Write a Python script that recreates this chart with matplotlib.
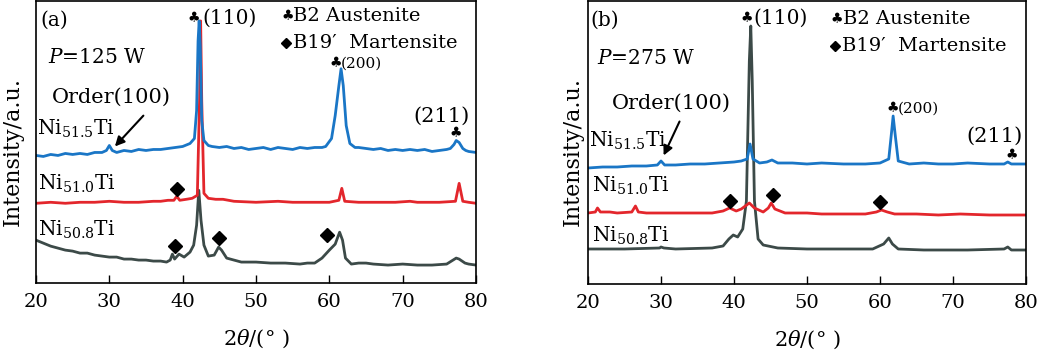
import matplotlib
matplotlib.use("Agg")
import matplotlib.pyplot as plt

plt.rcParams['font.family'] = ['DejaVu Serif', 'DejaVu Sans']
plt.rcParams['mathtext.fontset'] = 'dejavuserif'

# ---------------- data (2theta in degrees, intensity in a.u.) ----------------
# Panel (a): P = 125 W
a_blue_x = [20, 21, 22, 23, 24, 25, 26, 27, 28, 29, 29.6, 30.0, 30.4, 31, 32, 33, 34, 35, 36, 37, 38, 39, 40, 41, 41.6,
            41.9, 42.1, 42.25, 42.4, 42.6, 42.9, 43.5, 44, 45, 46, 47, 48, 49, 50, 51, 52, 53, 54, 55, 56, 57, 58, 59,
            59.5, 60.3, 60.8, 61.3, 61.6, 61.9, 62.3, 62.8, 63.5, 64, 65, 66, 67, 68, 69, 70, 71, 72, 73, 74, 75, 76,
            76.5, 77.0, 77.3, 77.7, 78.2, 78.6, 79, 80]
a_blue_y = [128, 127, 129, 128, 130, 129, 130, 129, 131, 131, 133, 138, 133, 131, 133, 132, 134, 133, 134, 134, 135, 136,
            137, 140, 145, 173, 243, 263, 238, 163, 143, 138, 137, 136, 137, 135, 136, 134, 135, 136, 134, 136, 135, 134,
            136, 135, 136, 136, 137, 145, 168, 198, 215, 198, 158, 140, 136, 136, 135, 134, 135, 133, 134, 133, 134,
            133, 134, 132, 133, 134, 135, 139, 143, 141, 135, 133, 132, 131]

a_red_x = [20, 22, 24, 26, 28, 30, 32, 34, 36, 37, 38, 38.8, 39.2, 39.6, 40.5, 41.3, 42.0, 42.3, 42.45, 42.6, 42.9, 43.5,
           44.5, 45.5, 47, 50, 53, 55, 58, 60, 61.3, 61.7, 62.1, 64, 66, 69, 71, 72, 75, 77.2, 77.7, 78.2, 79, 80]
a_red_y = [80, 81, 80, 81, 81, 82, 81, 81, 82, 82, 83, 83, 87, 83, 84, 85, 88, 183, 263, 183, 90, 85,
           84, 84, 82, 81, 82, 81, 81, 81, 83, 95, 82, 81, 81, 81, 82, 81, 81, 82, 100, 82, 81, 80]

a_gray_x = [20, 21, 22, 23, 24, 25, 26, 27, 28, 29, 30, 31, 32, 33, 34, 35, 36, 37, 37.8, 38.3, 38.6, 38.9, 39.5, 40.2,
            41.0, 41.5, 41.9, 42.2, 42.5, 42.9, 43.5, 44.3, 44.9, 45.3, 46, 47, 48, 50, 52, 54, 56, 57, 58, 59, 60,
            60.8, 61.4, 61.8, 62.2, 63, 64, 65, 66, 68, 70, 72, 74, 76, 77.3, 77.7, 78.5, 79, 80]
a_gray_y = [43, 40, 37, 35, 33, 32, 30, 30, 28, 27, 26, 26, 24, 24, 23, 23, 22, 22, 21, 23, 29, 24, 29, 26,
            31, 38, 58, 93, 63, 38, 27, 28, 36, 33, 25, 23, 21, 21, 20, 20, 19, 20, 20, 25, 33,
            39, 51, 43, 25, 19, 20, 20, 19, 18, 19, 18, 18, 19, 25, 24, 20, 19, 18]

# Panel (b): P = 275 W
b_blue_x = [20, 22, 24, 26, 28, 29.5, 30, 30.5, 32, 34, 36, 38, 40, 41, 41.8, 42.2, 42.6, 43.5, 44.5, 45.2, 46, 48, 50,
            52, 55, 58, 60, 61.2, 61.6, 61.8, 62.1, 62.5, 64, 66, 68, 70, 72, 75, 77, 77.5, 78, 80]
b_blue_y = [116, 117, 117, 118, 118, 119, 123, 119, 119, 120, 120, 121, 122, 123, 125, 140, 125, 121, 122, 124, 121, 121,
            120, 121, 120, 120, 121, 125, 153, 168, 148, 123, 120, 121, 120, 120, 121, 120, 120, 122, 120, 120]

b_red_x = [20, 21, 21.3, 21.7, 23, 24, 26, 26.5, 26.9, 28, 30, 32, 34, 36, 37, 38.5, 39.4, 40.3, 41, 42.1, 42.8, 44,
           44.7, 45.1, 45.6, 47, 50, 52, 55, 58, 59.5, 60.2, 61, 62, 65, 68, 71, 75, 78, 80]
b_red_y = [71, 72, 76, 72, 72, 71, 72, 78, 72, 71, 71, 71, 71, 71, 71, 73, 76, 73, 75, 81, 76, 72,
           76, 81, 75, 71, 71, 70, 70, 70, 72, 74, 72, 70, 70, 69, 70, 69, 69, 69]

b_gray_x = [20, 25, 29.8, 30, 30.4, 32, 37, 38.5, 39.3, 39.9, 40.5, 41.2, 41.7, 42.1, 42.3, 42.5, 42.8, 43.3, 44, 46, 50,
            55, 59, 60.5, 61.2, 61.7, 62.5, 66, 72, 77, 77.5, 78, 80]
b_gray_y = [35, 35, 36, 37, 36, 35, 36, 38, 45, 49, 47, 55, 83, 223, 258, 203, 83, 45, 39, 36, 35,
            35, 35, 40, 46, 40, 35, 34, 34, 35, 37, 34, 34]

sample_labels = ["Ni$_{51.5}$Ti", "Ni$_{51.0}$Ti", "Ni$_{50.8}$Ti"]
x_ticks = [20, 30, 40, 50, 60, 70, 80]

# martensite markers (2theta, intensity)
a_dia_x = [39.2, 38.9, 45.0, 59.7]
a_dia_y = [94, 37, 45, 48]
b_dia_x = [39.5, 45.3, 60.0]
b_dia_y = [83, 89, 82]

BLUE = '#1a76c6'
RED = '#e3262c'
GRAY = '#3c4a48'

fig = plt.figure(figsize=(10.4, 3.51), dpi=100)
W, H = 1040, 351


def make_ax(left, right, top, bottom):
    return fig.add_axes([left / W, 1 - bottom / H, (right - left) / W, (bottom - top) / H])


axA = make_ax(36, 476, 1, 283)
axB = make_ax(588, 1026, 1, 284)

TS = 14.5
CLUB = dict(family=['DejaVu Sans'], fontsize=10, fontweight='bold')


def style(ax):
    ax.set_xlim(20, 80)
    ax.set_ylim(0, 283)
    ax.set_yticks([])
    ax.set_xticks(x_ticks)
    ax.tick_params(axis='x', direction='in', length=6, width=1, labelsize=14, pad=7)
    for s in ax.spines.values():
        s.set_linewidth(1.2)
    ax.set_xlabel(r"2$\theta$/(° )", fontsize=15, labelpad=12)


for ax, data, dia in [
    (axA, [(a_gray_x, a_gray_y, GRAY), (a_red_x, a_red_y, RED), (a_blue_x, a_blue_y, BLUE)], (a_dia_x, a_dia_y)),
    (axB, [(b_gray_x, b_gray_y, GRAY), (b_red_x, b_red_y, RED), (b_blue_x, b_blue_y, BLUE)], (b_dia_x, b_dia_y)),
]:
    for x, y, c in data:
        ax.plot(x, y, color=c, lw=2.0)
    ax.plot(dia[0], dia[1], 'D', color='black', ms=7, ls='none')
    style(ax)

fig.text(13 / W, 1 - 152 / H, "Intensity/a.u.", rotation=90, fontsize=16, ha='center', va='center')
fig.text(573 / W, 1 - 152 / H, "Intensity/a.u.", rotation=90, fontsize=16, ha='center', va='center')

# ---- panel (a) annotations ----
axA.text(20.6, 264, "(a)", fontsize=TS, va='center')
axA.text(21.6, 226, "$P$=125 W", fontsize=TS, va='center')
axA.text(22.2, 186, "Order(100)", fontsize=15, va='center')
axA.annotate("", xy=(30.5, 135), xytext=(34.9, 170),
             arrowprops=dict(arrowstyle='-|>', color='black', lw=1.5, mutation_scale=14))
axA.text(20.1, 155, sample_labels[0], fontsize=TS, va='center')
axA.text(20.3, 100, sample_labels[1], fontsize=TS, va='center')
axA.text(20.3, 53, sample_labels[2], fontsize=TS, va='center')
axA.text(41.5, 266, "♣", va='center', ha='center', **CLUB)
axA.text(42.7, 266, "(110)", fontsize=TS, va='center')
axA.text(54.3, 268, "♣", va='center', ha='center', **CLUB)
axA.text(55.1, 268, "B2 Austenite", fontsize=14, va='center')
axA.plot([54.1], [241], 'D', color='black', ms=5)
axA.text(55.0, 241, "B19′  Martensite", fontsize=14, va='center')
axA.text(60.9, 221, "♣", va='center', ha='center', **CLUB)
axA.text(61.6, 220, "(200)", fontsize=11, va='center')
axA.text(71.5, 167, "(211)", fontsize=15, va='center')
axA.text(77.3, 150, "♣", va='center', ha='center', **CLUB)

# ---- panel (b) annotations ----
axB.text(20.3, 264, "(b)", fontsize=TS, va='center')
axB.text(21.3, 226, "$P$=275 W", fontsize=TS, va='center')
axB.text(23.3, 181, "Order(100)", fontsize=15, va='center')
axB.annotate("", xy=(30.2, 126), xytext=(32.7, 165),
             arrowprops=dict(arrowstyle='-|>', color='black', lw=1.5, mutation_scale=14))
axB.text(20.2, 143, sample_labels[0], fontsize=TS, va='center')
axB.text(20.5, 98, sample_labels[1], fontsize=TS, va='center')
axB.text(20.5, 48, sample_labels[2], fontsize=TS, va='center')
axB.text(41.8, 266, "♣", va='center', ha='center', **CLUB)
axB.text(42.6, 266, "(110)", fontsize=TS, va='center')
axB.text(54.1, 265, "♣", va='center', ha='center', **CLUB)
axB.text(54.9, 265, "B2 Austenite", fontsize=14, va='center')
axB.plot([53.9], [238], 'D', color='black', ms=5)
axB.text(54.8, 238, "B19′  Martensite", fontsize=14, va='center')
axB.text(61.7, 176, "♣", va='center', ha='center', **CLUB)
axB.text(62.4, 175, "(200)", fontsize=11, va='center')
axB.text(71.9, 148, "(211)", fontsize=15, va='center')
axB.text(78.0, 129, "♣", va='center', ha='center', **CLUB)

fig.savefig("out.png", dpi=100)
